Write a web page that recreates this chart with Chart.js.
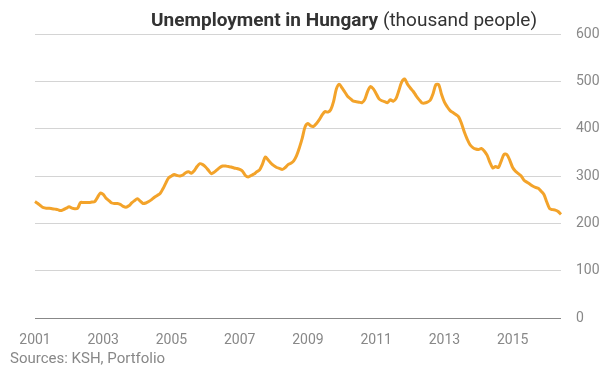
<!DOCTYPE html>
<html>
<head>
<meta charset="utf-8">
<script src="https://cdn.jsdelivr.net/npm/chart.js@4/dist/chart.umd.min.js"></script>
<style>
  body { margin: 0; background: #fff; }
  #wrap { position: relative; width: 612px; height: 392px; font-family: Roboto, "Noto Sans", sans-serif; }
  #title { position: absolute; right: 75px; top: 9px; font-size: 19px; line-height: 22px; color: #333; white-space: nowrap; }
  #title b { font-weight: 700; }
  #source { position: absolute; left: 10px; top: 349px; font-size: 15px; line-height: 18px; color: #888; }
</style>
</head>
<body>
<div id="wrap">
  <canvas id="unemp" width="612" height="392"></canvas>
  <div id="title"><b>Unemployment in Hungary</b> (thousand people)</div>
  <div id="source">Sources: KSH, Portfolio</div>
</div>
<script>
// monthly, Jan 2001 - Jun 2016, thousand people
const firstYear = 2001;
const tickYears = ["2001", "2003", "2005", "2007", "2009", "2011", "2013", "2015"];
const yTicks = [0, 100, 200, 300, 400, 500, 600];

const unemployed = [
  246, 242, 237, 233, 232, 232, 231, 230, 229, 227, 229, 232,
  235, 232, 231, 232, 244, 244, 244, 244, 245, 246, 255, 264,
  261, 253, 248, 243, 242, 242, 240, 236, 234, 237, 243, 248,
  252, 247, 242, 243, 246, 250, 255, 259, 263, 273, 285, 296,
  300, 303, 301, 300, 302, 307, 309, 306, 311, 320, 326, 324,
  319, 312, 305, 308, 313, 318, 321, 321, 320, 319, 317, 316,
  314, 310, 301, 298, 301, 304, 309, 313, 325, 340, 334, 327,
  322, 318, 316, 314, 318, 324, 327, 332, 343, 360, 380, 404,
  411, 406, 405, 411, 419, 429, 436, 435, 440, 457, 484, 494,
  486, 477, 468, 463, 458, 457, 456, 455, 462, 479, 489, 484,
  474, 463, 459, 457, 455, 461, 458, 464, 481, 499, 505, 494,
  486, 479, 470, 462, 455, 454, 456, 460, 474, 493, 493, 472,
  456, 446, 438, 434, 430, 425, 411, 393, 378, 366, 360, 357,
  356, 358, 353, 344, 329, 317, 320, 318, 332, 346, 345, 333,
  318, 310, 305, 300, 291, 287, 283, 279, 276, 274, 268, 261,
  245, 231, 229, 228, 225, 219
];

const months = unemployed.map((v, i) => {
  const y = firstYear + Math.floor(i / 12);
  const m = (i % 12) + 1;
  return `${y}-${m.toString().padStart(2, "0")}`;
});

const chart = new Chart(document.getElementById("unemp"), {
  type: "line",
  data: {
    labels: months,
    datasets: [
      {
        label: "Unemployed",
        data: unemployed,
        borderColor: "#f3a32a",
        borderWidth: 3,
        tension: 0.3,
        fill: false,
      },
    ],
  },
  options: {
    responsive: false,
    animation: false,
    devicePixelRatio: 1,
    layout: {
      padding: { left: 35, top: 34, right: 0, bottom: 0 },
    },
    elements: {
      point: {
        radius: 0,
      },
    },
    plugins: {
      legend: { display: false },
      tooltip: { enabled: false },
    },
    scales: {
      x: {
        offset: false,
        grid: { display: false },
        border: { display: false },
        afterFit: (scale) => {
          scale.height = 74;
        },
        ticks: {
          autoSkip: false,
          maxRotation: 0,
          padding: 6,
          color: "#888",
          font: { family: "Roboto", size: 14 },
          callback: function (value) {
            const lab = this.getLabelForValue(value);
            const [y, m] = lab.split("-");
            return m === "01" && tickYears.includes(y) ? y : null;
          },
        },
      },
      y: {
        position: "right",
        min: 0,
        max: 600,
        afterFit: (scale) => {
          scale.width = 51;
        },
        afterBuildTicks: (scale) => {
          scale.ticks = yTicks.map((v) => ({ value: v }));
        },
        grid: {
          drawTicks: false,
          color: (ctx) => (ctx.tick && ctx.tick.value === 0 ? "#888" : "#d4d4d4"),
          lineWidth: 1,
        },
        border: { display: false },
        ticks: {
          padding: 15,
          color: "#888",
          font: { family: "Roboto", size: 14 },
        },
      },
    },
  },
});
</script>
</body>
</html>
